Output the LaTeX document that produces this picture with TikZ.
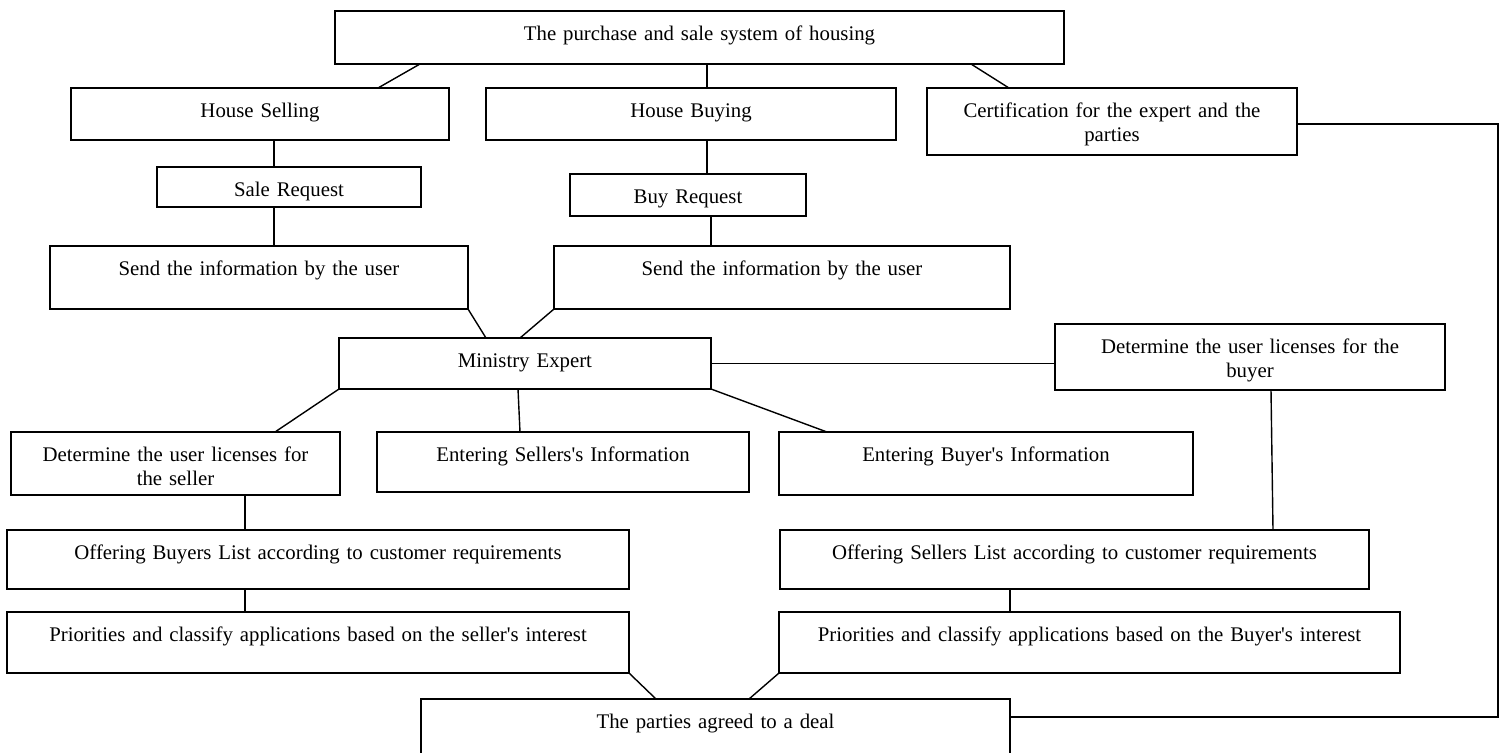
\documentclass[tikz,border=0pt]{standalone}
\usepackage{fontspec}
\setmainfont{Liberation Serif}

\begin{document}
\begin{tikzpicture}[x=0.5pt, y=-0.5pt,
                font=\fontsize{10.4}{12.2}\selectfont,
                blk/.style 2 args={draw, line width=0.7pt, inner sep=0pt, outer sep=0pt,
                            anchor=north west, align=center, text height=14.5pt,
                            text width=#1, text depth=#2},
                lnk/.style={line width=0.7pt}]
                \useasboundingbox (0,0) rectangle (1499,752);
                \node[blk={364.5pt}{12pt}] (sys) at (335,11) {The purchase and sale system of housing};
                \node[blk={189pt}{11.5pt}] (sell) at (71,88) {House Selling};
                \node[blk={205pt}{11.5pt}] (buy) at (486,88) {House Buying};
                \node[blk={185pt}{19pt}] (cert) at (927,88) {Certification for the expert and the\\parties};
                \node[blk={132pt}{5.5pt}] (salereq) at (157,167) {Sale Request};
                \node[blk={118pt}{6.5pt}] (buyreq) at (570,174) {Buy Request};
                \node[blk={209pt}{17pt}] (sendsell) at (50,246) {Send the information by the user};
                \node[blk={228pt}{17pt}] (sendbuy) at (554,246) {Send the information by the user};
                \node[blk={186pt}{11pt}] (expert) at (339,338) {Ministry Expert};
                \node[blk={195pt}{18.5pt}] (licbuy) at (1055,324) {Determine the user licenses for the\\buyer};
                \node[blk={164.5pt}{17pt}] (licsell) at (11,432) {Determine the user licenses for\\the seller};
                \node[blk={186pt}{15.5pt}] (entsell) at (377,432) {Entering Sellers\textquotesingle s Information};
                \node[blk={207pt}{17pt}] (entbuy) at (779,432) {Entering Buyer\textquotesingle s Information};
                \node[blk={311pt}{15pt}] (offbuy) at (7,530) {Offering Buyers List according to customer requirements};
                \node[blk={294.5pt}{15pt}] (offsell) at (780,530) {Offering Sellers List according to customer requirements};
                \node[blk={311pt}{16pt}] (prisell) at (7,612) {Priorities and classify applications based on the seller\textquotesingle s interest};
                \node[blk={310.5pt}{16pt}] (pribuy) at (779,612) {Priorities and classify applications based on the Buyer\textquotesingle s interest};
                \node[blk={294.5pt}{20.5pt}] (deal) at (421,699) {The parties agreed to a deal};
                % top level
                \draw[lnk] ([xshift=42.5pt]sys.south west) -- ([xshift=153.5pt]sell.north west);
                \draw[lnk] ([xshift=186pt]sys.south west) coordinate (t1) -- (t1 |- buy.north);
                \draw[lnk] ([xshift=-46.5pt]sys.south east) -- ([xshift=41pt]cert.north west);
                % requests
                \draw[lnk] ([xshift=101.5pt]sell.south west) coordinate (t2) -- (t2 |- salereq.north);
                \draw[lnk] ([xshift=58.5pt]salereq.south west) coordinate (t3) -- (t3 |- sendsell.north);
                \draw[lnk] ([xshift=110.5pt]buy.south west) coordinate (t4) -- (t4 |- buyreq.north);
                \draw[lnk] ([xshift=70.5pt]buyreq.south west) coordinate (t5) -- (t5 |- sendbuy.north);
                % expert
                \draw[lnk] (sendsell.south east) -- ([xshift=73.5pt]expert.north west);
                \draw[lnk] (sendbuy.south west) -- ([xshift=90.5pt]expert.north west);
                \draw[lnk] (expert.east) -- (expert.east -| licbuy.west);
                \draw[lnk] (expert.south west) -- ([xshift=132pt]licsell.north west);
                \draw[lnk] ([xshift=89.5pt]expert.south west) -- ([xshift=71.5pt]entsell.north west);
                \draw[lnk] (expert.south east) -- ([xshift=24pt]entbuy.north west);
                % lists
                \draw[lnk] ([xshift=108pt]licbuy.south west) -- ([xshift=246.5pt]offsell.north west);
                \draw[lnk] ([xshift=117pt]licsell.south west) coordinate (t6) -- (t6 |- offbuy.north);
                \draw[lnk] ([xshift=119pt]offbuy.south west) coordinate (t7) -- (t7 |- prisell.north);
                \draw[lnk] ([xshift=115pt]offsell.south west) coordinate (t8) -- (t8 |- pribuy.north);
                % deal
                \draw[lnk] (prisell.south east) -- ([xshift=117.5pt]deal.north west);
                \draw[lnk] (pribuy.south west) -- ([xshift=164pt]deal.north west);
                \coordinate (rim) at (1498,0);
                \coordinate (dl) at ([yshift=-9pt]deal.north east);
                \draw[lnk] ([yshift=-1.25pt]cert.east) -| (rim |- dl) -- (dl);
            \end{tikzpicture}
\end{document}
